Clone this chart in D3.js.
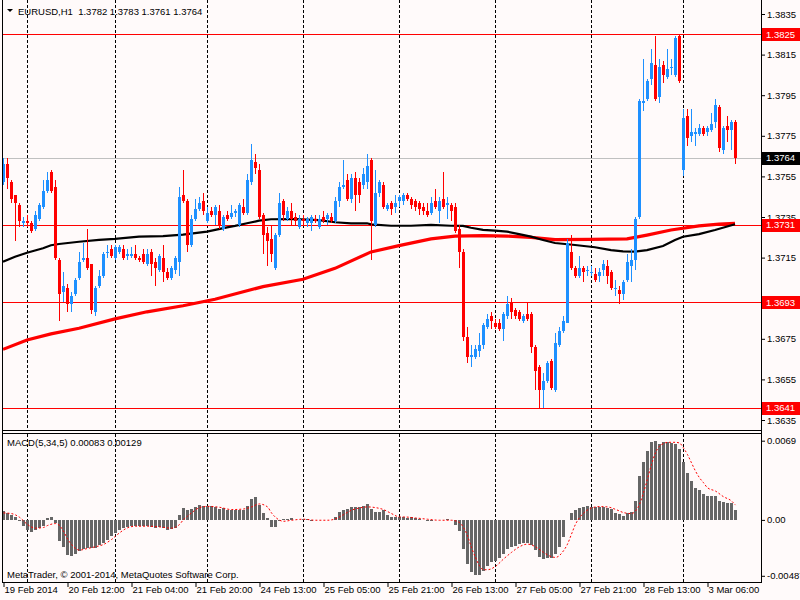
<!DOCTYPE html>
<html><head><meta charset="utf-8">
<script src="https://cdn.jsdelivr.net/npm/d3@7"></script>
<style>
body{margin:0;background:#fffafa;}
svg{display:block;font-family:"Liberation Sans",Arial,sans-serif;}
</style>
</head><body>
<svg id="c" width="800" height="600"></svg>
<script>
// ---------- DATA (EURUSD H1) ----------
const openP = [
1.3752,1.3761,1.3752,1.3746,1.3741,1.3732,1.3733,1.3732,1.3729,1.3734,
1.3740,1.3748,1.3757,1.3750,1.3714,1.3698,1.3700,1.3692,1.3697,1.3705,
1.3714,1.3715,1.3712,1.3688,1.3701,1.3706,1.3718,1.3719,1.3715,1.3718,
1.3719,1.3716,1.3716,1.3717,1.3715,1.3717,1.3712,1.3718,1.3713,1.3709,
1.3715,1.3708,1.3705,1.3709,1.3713,1.3746,1.3743,1.3721,1.3734,1.3739,
1.3743,1.3733,1.3738,1.3736,1.3738,1.3729,1.3736,1.3735,1.3737,1.3731,
1.3740,1.3737,1.3752,1.3762,1.3758,1.3736,1.3727,1.3724,1.3710,1.3726,
1.3743,1.3734,1.3738,1.3735,1.3730,1.3734,1.3732,1.3732,1.3734,1.3730,
1.3735,1.3734,1.3735,1.3733,1.3743,1.3750,1.3753,1.3744,1.3754,1.3752,
1.3751,1.3752,1.3763,1.3731,1.3747,1.3751,1.3739,1.3742,1.3740,1.3743,
1.3743,1.3746,1.3744,1.3743,1.3742,1.3740,1.3738,1.3737,1.3743,1.3738,
1.3744,1.3741,1.3741,1.3740,1.3729,1.3718,1.3676,1.3666,1.3666,1.3669,
1.3672,1.3681,1.3686,1.3683,1.3683,1.3680,1.3686,1.3693,1.3689,1.3688,
1.3684,1.3687,1.3687,1.3671,1.3661,1.3650,1.3654,1.3664,1.3650,1.3672,
1.3679,1.3683,1.3718,1.3710,1.3706,1.3710,1.3709,1.3708,1.3707,1.3706,
1.3709,1.3711,1.3708,1.3700,1.3699,1.3697,1.3704,1.3711,1.3714,1.3735,
1.3791,1.3793,1.3803,1.3810,1.3794,1.3810,1.3804,1.3809,1.3805,1.3824,
1.3758,1.3785,1.3775,1.3776,1.3776,1.3779,1.3777,1.3778,1.3782,1.3789,
1.3768,1.3780,1.3778,1.3782];
const highP = [
1.3764,1.3764,1.3753,1.3746,1.3742,1.3735,1.3736,1.3733,1.3738,1.3742,
1.3753,1.3757,1.3758,1.3753,1.3715,1.3708,1.3702,1.3698,1.3705,1.3718,
1.3722,1.3729,1.3712,1.3701,1.3709,1.3718,1.3721,1.3721,1.3721,1.3721,
1.3721,1.3719,1.3720,1.3721,1.3716,1.3719,1.3719,1.3719,1.3715,1.3717,
1.3721,1.3710,1.3711,1.3716,1.3750,1.3758,1.3744,1.3736,1.3744,1.3745,
1.3747,1.3740,1.3740,1.3741,1.3741,1.3736,1.3738,1.3741,1.3739,1.3742,
1.3744,1.3756,1.3771,1.3766,1.3761,1.3737,1.3730,1.3731,1.3727,1.3747,
1.3744,1.3740,1.3742,1.3737,1.3736,1.3736,1.3735,1.3736,1.3736,1.3736,
1.3738,1.3737,1.3737,1.3745,1.3752,1.3763,1.3756,1.3756,1.3757,1.3754,
1.3759,1.3766,1.3764,1.3758,1.3753,1.3752,1.3742,1.3743,1.3746,1.3746,
1.3747,1.3747,1.3745,1.3744,1.3743,1.3742,1.3742,1.3745,1.3749,1.3745,
1.3757,1.3745,1.3742,1.3742,1.3731,1.3719,1.3681,1.3672,1.3672,1.3678,
1.3683,1.3687,1.3688,1.3685,1.3685,1.3688,1.3696,1.3695,1.3690,1.3689,
1.3687,1.3693,1.3688,1.3672,1.3662,1.3658,1.3664,1.3665,1.3678,1.3681,
1.3686,1.3724,1.3726,1.3711,1.3716,1.3711,1.3711,1.3711,1.3710,1.3710,
1.3714,1.3714,1.3709,1.3704,1.3701,1.3704,1.3717,1.3719,1.3735,1.3793,
1.3813,1.3803,1.3818,1.3824,1.3813,1.3812,1.3818,1.3813,1.3824,1.3825,
1.3788,1.3788,1.3788,1.3779,1.3781,1.3780,1.3780,1.3786,1.3793,1.3790,
1.3780,1.3785,1.3783,1.3783];
const lowP = [
1.3751,1.3749,1.3742,1.3723,1.3730,1.3730,1.3730,1.3727,1.3728,1.3733,
1.3739,1.3747,1.3747,1.3714,1.3684,1.3693,1.3688,1.3688,1.3696,1.3704,
1.3713,1.3709,1.3687,1.3686,1.3700,1.3705,1.3715,1.3715,1.3714,1.3717,
1.3714,1.3714,1.3715,1.3714,1.3713,1.3712,1.3711,1.3706,1.3701,1.3708,
1.3703,1.3704,1.3704,1.3707,1.3706,1.3742,1.3718,1.3720,1.3733,1.3738,
1.3736,1.3732,1.3735,1.3731,1.3729,1.3728,1.3733,1.3734,1.3735,1.3730,
1.3736,1.3736,1.3751,1.3756,1.3734,1.3717,1.3711,1.3713,1.3709,1.3725,
1.3733,1.3733,1.3731,1.3731,1.3729,1.3731,1.3730,1.3728,1.3732,1.3729,
1.3732,1.3731,1.3732,1.3732,1.3740,1.3749,1.3743,1.3742,1.3738,1.3742,
1.3749,1.3749,1.3714,1.3730,1.3745,1.3739,1.3738,1.3736,1.3737,1.3740,
1.3741,1.3743,1.3739,1.3738,1.3736,1.3736,1.3735,1.3736,1.3739,1.3732,
1.3739,1.3734,1.3733,1.3727,1.3710,1.3674,1.3663,1.3661,1.3665,1.3666,
1.3670,1.3680,1.3680,1.3680,1.3679,1.3674,1.3685,1.3685,1.3685,1.3684,
1.3683,1.3684,1.3668,1.3650,1.3641,1.3641,1.3653,1.3650,1.3649,1.3671,
1.3678,1.3683,1.3709,1.3705,1.3705,1.3703,1.3706,1.3706,1.3703,1.3703,
1.3706,1.3702,1.3699,1.3696,1.3692,1.3694,1.3703,1.3703,1.3709,1.3734,
1.3787,1.3792,1.3800,1.3792,1.3791,1.3801,1.3803,1.3805,1.3804,1.3801,
1.3755,1.3770,1.3772,1.3770,1.3775,1.3775,1.3775,1.3777,1.3779,1.3767,
1.3766,1.3772,1.3768,1.3761];
const closeP = [
1.3761,1.3754,1.3744,1.3742,1.3733,1.3733,1.3732,1.3728,1.3736,1.3741,
1.3748,1.3753,1.3748,1.3715,1.3697,1.3701,1.3692,1.3696,1.3704,1.3713,
1.3715,1.3710,1.3689,1.3700,1.3706,1.3717,1.3718,1.3716,1.3720,1.3720,
1.3715,1.3717,1.3717,1.3715,1.3714,1.3713,1.3717,1.3712,1.3710,1.3716,
1.3708,1.3705,1.3710,1.3715,1.3745,1.3743,1.3721,1.3734,1.3739,1.3742,
1.3738,1.3737,1.3736,1.3740,1.3731,1.3735,1.3734,1.3737,1.3738,1.3741,
1.3737,1.3753,1.3763,1.3759,1.3735,1.3726,1.3723,1.3717,1.3726,1.3742,
1.3736,1.3738,1.3734,1.3733,1.3734,1.3733,1.3734,1.3735,1.3733,1.3734,
1.3733,1.3736,1.3733,1.3743,1.3750,1.3751,1.3744,1.3754,1.3746,1.3746,
1.3756,1.3760,1.3733,1.3747,1.3752,1.3740,1.3741,1.3739,1.3742,1.3745,
1.3746,1.3744,1.3741,1.3740,1.3739,1.3738,1.3736,1.3742,1.3740,1.3743,
1.3740,1.3742,1.3738,1.3728,1.3718,1.3676,1.3666,1.3667,1.3670,1.3672,
1.3682,1.3685,1.3684,1.3681,1.3680,1.3687,1.3692,1.3688,1.3686,1.3685,
1.3686,1.3685,1.3671,1.3659,1.3650,1.3654,1.3663,1.3651,1.3673,1.3679,
1.3684,1.3722,1.3710,1.3706,1.3710,1.3708,1.3709,1.3708,1.3704,1.3708,
1.3712,1.3706,1.3700,1.3700,1.3697,1.3703,1.3713,1.3714,1.3734,1.3792,
1.3792,1.3802,1.3811,1.3793,1.3809,1.3805,1.3808,1.3809,1.3823,1.3802,
1.3784,1.3774,1.3777,1.3777,1.3779,1.3776,1.3779,1.3781,1.3790,1.3769,
1.3779,1.3778,1.3782,1.3764];

// moving averages, read at sampled bars
const maBlackBars = [0,3,6,10,12,14,19,24,28,34,40,45,46,51,56,58,61,64,67,73,79,83,87,91,92,97,102,107,112,115,117,120,123,126,129,132,135,138,143,148,152,155,158,161,165,168,170,174,178,183];
const maBlackVals = [1.37130,1.37154,1.37174,1.37196,1.37211,1.37217,1.37228,1.37237,1.37242,1.37253,1.37256,1.37263,1.37266,1.37278,1.37299,1.37306,1.37319,1.37332,1.37339,1.37340,1.37335,1.37324,1.37319,1.37319,1.37314,1.37307,1.37307,1.37311,1.37307,1.37306,1.37297,1.37287,1.37283,1.37278,1.37266,1.37253,1.37237,1.37222,1.37212,1.37201,1.37187,1.37181,1.37179,1.37187,1.37207,1.37237,1.37253,1.37266,1.37286,1.37314];
const maRedBars = [0,6,12,19,28,36,45,53,65,75,83,92,99,107,113,120,126,132,138,147,156,161,167,174,179,183];
const maRedVals = [1.36698,1.36744,1.36774,1.36802,1.36848,1.36883,1.36913,1.36945,1.37007,1.37043,1.37097,1.37178,1.37209,1.37242,1.37256,1.37258,1.37256,1.37250,1.37239,1.37240,1.37242,1.37261,1.37286,1.37306,1.37315,1.37319];

// MACD(5,34,5) histogram, in units of 0.0001
const macdMain = [
8.1,6.1,4.6,2.3,-0.9,-5.5,-8.4,-10.7,-9.0,-6.9,
-4.9,1.7,2.6,-2.6,-18.5,-23.7,-30.6,-31.5,-30.1,-27.2,
-25.7,-24.3,-24.9,-24.3,-22.3,-19.9,-17.1,-14.2,-11.3,-8.4,
-6.9,-6.1,-5.5,-5.5,-5.5,-5.5,-5.5,-6.1,-6.9,-6.1,
-6.9,-8.4,-7.8,-6.9,4.6,10.4,8.4,9.5,11.3,13.3,
12.4,12.4,11.8,11.3,9.5,10.1,9.0,9.0,8.4,9.0,
9.0,12.4,18.2,19.7,13.3,6.1,1.7,-6.1,-6.1,-0.6,
0.9,0.9,1.4,0.3,0.3,0.9,0.9,-0.6,-0.3,-0.3,
0.3,-0.3,0.3,2.3,6.6,9.0,9.5,11.3,11.3,11.3,
11.8,13.9,9.5,6.6,6.6,8.4,4.6,2.6,2.6,2.3,
2.6,2.0,2.3,1.4,1.2,0.2,-1.2,-0.9,-0.3,-0.3,
-0.3,0.6,-0.3,-4.6,-9.5,-25.4,-38.4,-45.7,-48.0,-48.0,
-44.2,-39.9,-37.0,-35.5,-33.5,-29.8,-25.4,-23.4,-22.5,-21.1,
-20.2,-20.2,-22.0,-26.3,-32.7,-34.1,-33.5,-33.5,-29.8,-24.0,
-15.3,-0.3,5.8,8.4,10.7,11.6,12.1,11.6,11.6,11.6,
11.6,10.7,9.2,5.8,4.9,3.5,6.4,6.9,16.5,38.1,
50.3,60.4,68.2,68.8,66.5,68.2,67.6,67.0,66.5,61.8,
50.3,41.0,33.8,28.0,26.0,22.8,20.8,20.8,20.8,16.5,
15.6,14.5,14.5,8.3];
const signalBars = [0,2,4,6,8,10,11,13,14,15,16,17,19,21,23,25,27,29,31,33,36,39,42,44,45,46,47,49,51,54,57,60,62,64,66,67,68,70,72,75,78,81,83,85,87,89,91,93,95,97,99,100,103,106,109,112,114,115,116,117,118,119,120,121,123,125,127,129,131,133,135,137,138,140,141,142,143,144,145,147,149,151,153,155,157,158,159,160,161,162,163,164,165,166,168,169,170,171,172,173,174,175,176,178,180,182,183];
const signalVals = [6.1,5.5,2.3,-4.0,-7.2,-6.6,-4.9,-3.2,-4.9,-9.8,-16.5,-21.4,-26.3,-24.9,-23.4,-21.4,-17.1,-11.3,-6.9,-5.5,-5.5,-6.1,-7.2,-4.0,0.3,3.2,6.1,10.7,11.8,11.0,9.0,9.5,11.3,13.9,11.3,6.1,2.3,-1.2,-0.3,0.6,-0.3,-0.3,0.9,4.6,8.4,10.4,11.3,10.7,9.0,5.5,2.6,2.6,1.7,0.6,-0.3,-0.3,-2.3,-6.6,-13.9,-24.0,-32.7,-39.9,-43.4,-43.4,-40.5,-34.1,-28.3,-23.4,-21.1,-23.4,-28.3,-32.1,-32.7,-26.9,-21.1,-12.4,-3.8,2.0,5.8,10.4,11.6,11.3,9.2,6.4,5.5,7.8,13.6,23.7,35.8,48.3,58.4,64.2,66.5,67.6,67.6,67.0,62.7,56.9,49.7,42.5,36.7,32.4,28.0,25.1,20.2,16.5,12.9];

// axes
const priceTicks = [1.3835,1.3815,1.3795,1.3775,1.3755,1.3735,1.3715,1.3695,1.3675,1.3655,1.3635];
const macdTicks = [0.0069, 0, -0.00487];
const macdTickLabels = ["0.0069","0.00","-0.00487"];
const timeBars = [0,16,32,48,64,80,96,112,128,144,160,176];
const timeLabels = ["19 Feb 2014","20 Feb 12:00","21 Feb 04:00","21 Feb 20:00","24 Feb 13:00","25 Feb 05:00","25 Feb 21:00","26 Feb 13:00","27 Feb 05:00","27 Feb 21:00","28 Feb 13:00","3 Mar 06:00"];
const gridBars = [6,28,51,75,99,123,147,170];
const redLevels = [1.3825,1.3731,1.3693,1.3641];
const bidLevel = 1.3764;

// ---------- DRAW ----------
const svg = d3.select("#c");
const BG = "#fffafa", BLUE = "#1e90ff", RED = "#ff0000";
const PL = 2.5, PR = 761.5, MAIN_B = 430.5, MACD_T = 433.5, MACD_B = 582.5;

const x = d3.scaleLinear().domain([0,183]).range([3,735]);
const y = d3.scaleLinear().domain([1.3635,1.3835]).range([420,14]);
const ym = d3.scaleLinear().domain([-0.00487,0.0069]).range([575.8,440.7]);
const idx = d3.range(openP.length);

svg.append("rect").attr("width",800).attr("height",600).attr("fill",BG);

const defs = svg.append("defs");
defs.append("clipPath").attr("id","cm").append("rect").attr("x",3).attr("y",0).attr("width",758).attr("height",430);
defs.append("clipPath").attr("id","cd").append("rect").attr("x",3).attr("y",434).attr("width",758).attr("height",148);

// main panel
const gm = svg.append("g").attr("clip-path","url(#cm)");
gm.selectAll("line.grid").data(gridBars).join("line")
  .attr("x1",d=>x(d)+0.5).attr("x2",d=>x(d)+0.5).attr("y1",0).attr("y2",430)
  .attr("stroke","#000").attr("stroke-dasharray","3,2").attr("shape-rendering","crispEdges");
gm.append("line").attr("x1",PL).attr("x2",PR).attr("y1",Math.round(y(bidLevel))+0.5).attr("y2",Math.round(y(bidLevel))+0.5)
  .attr("stroke","#c0c0c0").attr("shape-rendering","crispEdges");
gm.selectAll("line.lvl").data(redLevels).join("line")
  .attr("x1",PL).attr("x2",PR).attr("y1",d=>Math.round(y(d))+0.5).attr("y2",d=>Math.round(y(d))+0.5)
  .attr("stroke",RED).attr("shape-rendering","crispEdges");

const lineRed = d3.line().x((d,i)=>x(maRedBars[i])).y(d=>y(d));
const lineBlack = d3.line().x((d,i)=>x(maBlackBars[i])).y(d=>y(d));
gm.append("path").attr("d",lineRed(maRedVals)).attr("fill","none").attr("stroke",RED).attr("stroke-width",3.2);
gm.append("path").attr("d",lineBlack(maBlackVals)).attr("fill","none").attr("stroke","#000").attr("stroke-width",2.2);

const candles = gm.selectAll("g.c").data(idx).join("g");
candles.append("line")
  .attr("x1",i=>x(i)+0.5).attr("x2",i=>x(i)+0.5)
  .attr("y1",i=>y(highP[i])).attr("y2",i=>y(lowP[i]))
  .attr("stroke",i=>closeP[i]>=openP[i]?BLUE:RED).attr("shape-rendering","crispEdges");
candles.append("rect")
  .attr("x",i=>x(i)-1).attr("width",3)
  .attr("y",i=>y(Math.max(openP[i],closeP[i])))
  .attr("height",i=>Math.max(1,Math.abs(y(openP[i])-y(closeP[i]))))
  .attr("fill",i=>closeP[i]>=openP[i]?BLUE:RED).attr("shape-rendering","crispEdges");

// MACD panel
const gd = svg.append("g").attr("clip-path","url(#cd)");
gd.selectAll("line.grid").data(gridBars).join("line")
  .attr("x1",d=>x(d)+0.5).attr("x2",d=>x(d)+0.5).attr("y1",434).attr("y2",582)
  .attr("stroke","#000").attr("stroke-dasharray","3,2").attr("shape-rendering","crispEdges");
gd.selectAll("rect.h").data(idx).join("rect")
  .attr("x",i=>x(i)-1).attr("width",3)
  .attr("y",i=>Math.min(ym(0),ym(macdMain[i]/10000)))
  .attr("height",i=>Math.max(0.5,Math.abs(ym(macdMain[i]/10000)-ym(0))))
  .attr("fill","#666666").attr("shape-rendering","crispEdges");
const lineSig = d3.line().x((d,i)=>x(signalBars[i])+0.5).y(d=>ym(d/10000)).curve(d3.curveMonotoneX);
gd.append("path").attr("d",lineSig(signalVals)).attr("fill","none").attr("stroke",RED)
  .attr("stroke-width",1).attr("stroke-dasharray","2,2");

// frames
const fr = svg.append("g").attr("stroke","#000").attr("shape-rendering","crispEdges");
fr.append("line").attr("x1",PL).attr("x2",PL).attr("y1",0).attr("y2",MACD_B);
fr.append("line").attr("x1",PR).attr("x2",PR).attr("y1",0).attr("y2",MACD_B);
fr.append("line").attr("x1",PL).attr("x2",PR).attr("y1",MAIN_B).attr("y2",MAIN_B);
fr.append("line").attr("x1",PL).attr("x2",PR).attr("y1",MACD_T).attr("y2",MACD_T);
fr.append("line").attr("x1",PL).attr("x2",PR).attr("y1",MACD_B).attr("y2",MACD_B);

// price axis
const fontSz = "9.5px";
const ax = svg.append("g").attr("transform","translate(761,0)")
  .call(d3.axisRight(y).tickValues(priceTicks).tickSize(4).tickPadding(2).tickFormat(d3.format(".4f")));
ax.select(".domain").remove();
ax.selectAll("text").attr("font-size",fontSz).attr("font-family","Liberation Sans").attr("fill","#000");
ax.selectAll("line").attr("stroke","#000");

const mx = svg.append("g").attr("transform","translate(761,0)")
  .call(d3.axisRight(ym).tickValues(macdTicks).tickSize(4).tickPadding(2).tickFormat((d,i)=>macdTickLabels[i]));
mx.select(".domain").remove();
mx.selectAll("text").attr("font-size",fontSz).attr("font-family","Liberation Sans").attr("fill","#000");

// price labels boxes
function box(v, fill){
  const cy = y(v);
  svg.append("rect").attr("x",762).attr("y",Math.round(cy)-6).attr("width",38).attr("height",13).attr("fill",fill);
  svg.append("text").attr("x",766).attr("y",cy).attr("dy","0.35em").attr("font-size",fontSz)
    .attr("fill","#fff").text(d3.format(".4f")(v));
}
redLevels.forEach(v=>box(v,RED));
box(bidLevel,"#000");

// time axis
const tx = svg.append("g").attr("transform","translate(0,582)")
  .call(d3.axisBottom(x).tickValues(timeBars).tickSize(5).tickFormat((d,i)=>timeLabels[i]));
tx.select(".domain").remove();
tx.selectAll(".tick line").attr("transform","translate(0.5,0)").attr("stroke","#000");
tx.selectAll("text").attr("text-anchor","start").attr("x",1).attr("y",4)
  .attr("font-size",fontSz).attr("font-family","Liberation Sans").attr("fill","#000");

// titles
svg.append("path").attr("d","M7,9 L13,9 L10,12 Z").attr("fill","#000");
svg.append("text").attr("x",18).attr("y",14.5).attr("font-size",fontSz).attr("fill","#000")
  .text("EURUSD,H1  1.3782 1.3783 1.3761 1.3764").attr("xml:space","preserve").style("white-space","pre");
svg.append("text").attr("x",7).attr("y",446).attr("font-size",fontSz).attr("fill","#000")
  .text("MACD(5,34,5) 0.00083 0.00129");
svg.append("text").attr("x",7).attr("y",578).attr("font-size",fontSz).attr("fill","#000")
  .text("MetaTrader, © 2001-2014, MetaQuotes Software Corp.");
</script>
</body></html>
